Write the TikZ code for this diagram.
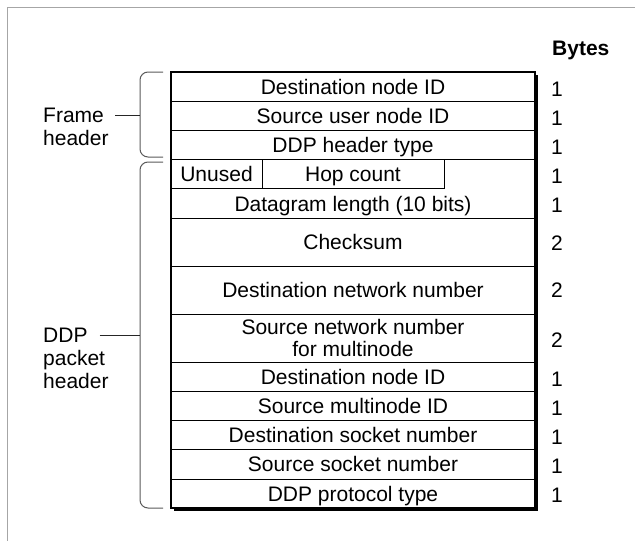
\documentclass[tikz,border=0pt]{standalone}
\usepackage{fontspec}
\setmainfont{Liberation Sans}
\usetikzlibrary{shadows}
\begin{document}
\begin{tikzpicture}[x=1pt,y=-1pt,
  txt/.style={font=\fontsize{21}{23}\selectfont, inner sep=0pt},
  rowbox/.style={txt, draw, line width=0.9pt, minimum width=364pt, text height=15pt, text depth=0pt},
  cellbox/.style={txt, draw, line width=0.9pt, minimum height=29pt, text height=15pt, text depth=0pt},
  num/.style={txt, anchor=west, text height=15pt, text depth=0pt},
  lbl/.style={txt, anchor=base west},
  bracepath/.style={draw=black!65, line width=1pt, rounded corners=8pt},
  tick/.style={draw=black!85, line width=0.9pt}]
\useasboundingbox (0,0) rectangle (635,541);
% page frame
\draw[black!35, line width=1.5pt] (7.5,541) -- (7.5,7.5) -- (635,7.5);

% outer box with shadow
\node[draw, line width=1.2pt, fill=white, minimum width=364pt, minimum height=436pt, inner sep=0pt,
  drop shadow={shadow xshift=3pt, shadow yshift=-3pt, fill=black, opacity=1}] (box) at (353,290) {};

% rows
\node[rowbox, minimum height=29pt] (r1) at (353,86.5) {Destination node ID};
\node[rowbox, minimum height=29pt] (r2) at (353,115.5) {Source user node ID};
\node[rowbox, minimum height=29pt] (r3) at (353,144.5) {DDP header type};
\node[rowbox, minimum height=59pt] (r4) at (353,188.5) {};
\node[cellbox, minimum width=91pt] (unused) at (216.5,173.5) {Unused};
\node[cellbox, minimum width=182pt] (hop) at (353,173.5) {Hop count};
\node[txt, text height=15pt, text depth=0pt] (dlen) at (353,203.5) {Datagram length (10 bits)};
\node[rowbox, minimum height=48pt] (r5) at (353,242) {Checksum};
\node[rowbox, minimum height=48pt] (r6) at (353,290) {Destination network number};
\node[rowbox, minimum height=48pt, text height=, text depth=, align=center,
  font=\fontsize{21}{22}\selectfont] (r7) at (353,338) {Source network number\\for multinode};
\node[rowbox, minimum height=29pt] (r8) at (353,376.5) {Destination node ID};
\node[rowbox, minimum height=29pt] (r9) at (353,405.5) {Source multinode ID};
\node[rowbox, minimum height=29.5pt] (r10) at (353,434.75) {Destination socket number};
\node[rowbox, minimum height=29.5pt] (r11) at (353,464.25) {Source socket number};
\node[rowbox, minimum height=29pt] (r12) at (353,493.5) {DDP protocol type};

% bytes column
\node[txt, anchor=base west, font=\fontsize{21}{23}\selectfont\bfseries] (bytes) at (552,55.5) {Bytes};
\node[num] (n1) at (551,89) {1};
\node[num] (n2) at (551,118) {1};
\node[num] (n3) at (551,147) {1};
\node[num] (n4) at (551,175.5) {1};
\node[num] (n5) at (551,205) {1};
\node[num] (n6) at (551,243) {2};
\node[num] (n7) at (551,290) {2};
\node[num] (n8) at (551,340) {2};
\node[num] (n9) at (551,379) {1};
\node[num] (n10) at (551,408) {1};
\node[num] (n11) at (551,437) {1};
\node[num] (n12) at (551,466) {1};
\node[num] (n13) at (551,494.5) {1};

% braces
\draw[bracepath] (163,72) -- (140,72) -- (140,157) -- (163,157);
\draw[bracepath] (163,162) -- (140,162) -- (140,508) -- (163,508);
\coordinate (bf) at (140,115);
\coordinate (bd) at (140,335);

% labels
\node[lbl] (frame) at (43,122.5) {Frame};
\node[lbl] (frameh) at (43,145.5) {header};
\node[lbl] (ddp) at (43,342.5) {DDP};
\node[lbl] (ddpp) at (43,365.5) {packet};
\node[lbl] (ddph) at (43,388.5) {header};
\draw[tick, shorten <=11pt] (frame.east) -- (frame.east -| bf);
\draw[tick, shorten <=12pt] (ddp.east) -- (ddp.east -| bd);
\end{tikzpicture}
\end{document}
